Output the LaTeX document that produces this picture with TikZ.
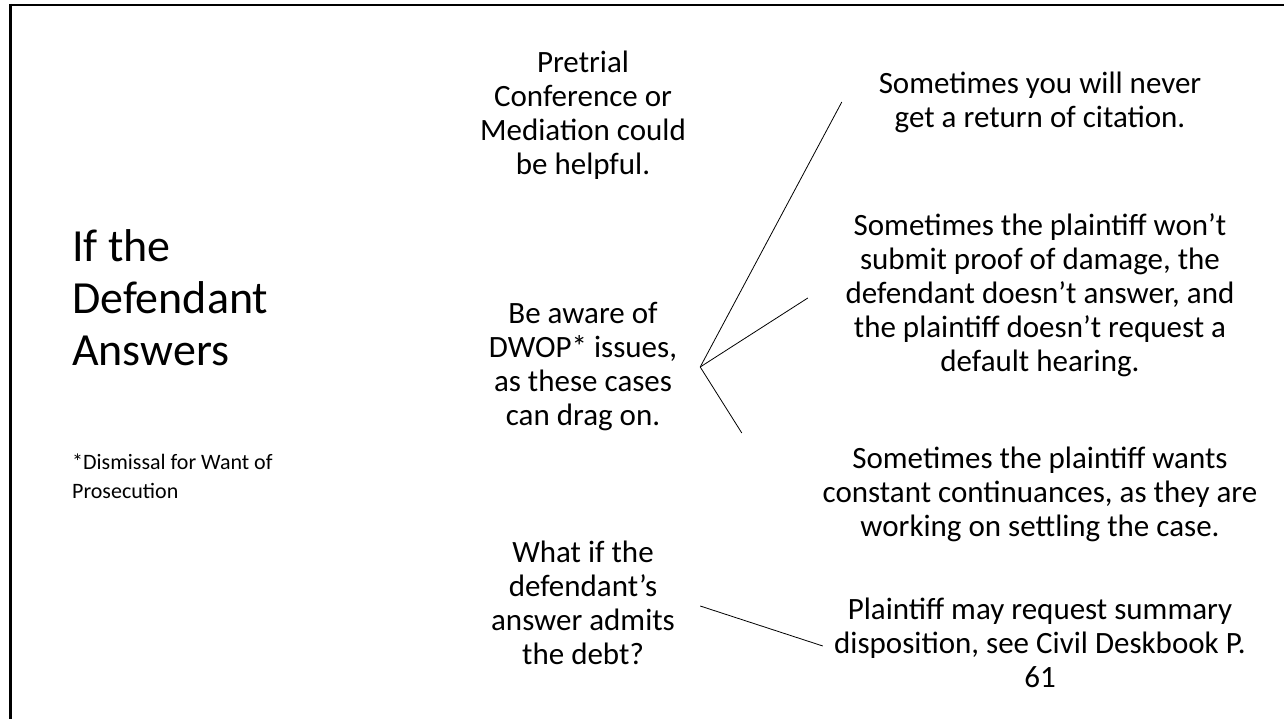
\documentclass[tikz,border=0pt]{standalone}
\usepackage{fontspec}
\setmainfont{Carlito}
\begin{document}
\begin{tikzpicture}[x=1pt,y=-1pt,
    lead/.style={font=\fontsize{31}{34}\selectfont,align=center,inner sep=0pt},
    leaf/.style={font=\fontsize{31}{34}\selectfont,align=center,inner sep=0pt},
    link/.style={line width=0.8pt}]
  \useasboundingbox (0,0) rectangle (1284,719);
  % slide frame
  \draw[line width=2pt] (9,5) -- (1284,5);
  \draw[line width=3pt] (10.5,4) -- (10.5,719);
  % left column
  \node[anchor=west,align=left,inner sep=0pt,font=\fontsize{46}{52}\selectfont] (title) at (72,298)
    {If the\\Defendant\\Answers};
  \node[anchor=west,align=left,inner sep=0pt,font=\fontsize{22}{29}\selectfont] (note) at (72,476)
    {*Dismissal for Want of\\Prosecution};
  % middle column
  \node[lead,minimum width=234] (pretrial) at (583,115)
    {Pretrial\\Conference or\\Mediation could\\be helpful.};
  \node[lead,minimum width=234] (dwop) at (583,367)
    {Be aware of\\DWOP* issues,\\as these cases\\can drag on.};
  \node[lead,minimum width=234] (whatif) at (583,603)
    {What if the\\defendant’s\\answer admits\\the debt?};
  % right column
  \node[leaf,minimum width=396] (citation) at (1040,102)
    {Sometimes you will never\\get a return of citation.};
  \node[leaf,minimum width=464] (proof) at (1040,295)
    {Sometimes the plaintiff won’t\\submit proof of damage, the\\defendant doesn’t answer, and\\the plaintiff doesn’t request a\\default hearing.};
  \node[leaf,minimum width=596] (continue) at (1040,494)
    {Sometimes the plaintiff wants\\constant continuances, as they are\\working on settling the case.};
  \node[leaf,minimum width=434] (summary) at (1040,643)
    {Plaintiff may request summary\\disposition, see Civil Deskbook P.\\61};
  % connector ends
  \coordinate (proof-l) at ([yshift=-3pt]proof.west);
  \coordinate (continue-l) at ([yshift=61pt]continue.west);
  \coordinate (whatif-r) at ([yshift=-3pt]whatif.east);
  \coordinate (summary-l) at ([yshift=-3pt]summary.west);
  \begin{scope}[link]
    \draw (dwop.east) to (citation.west);
    \draw (dwop.east) to (proof-l);
    \draw (dwop.east) to (continue-l);
    \draw (whatif-r) to (summary-l);
  \end{scope}
\end{tikzpicture}
\end{document}
